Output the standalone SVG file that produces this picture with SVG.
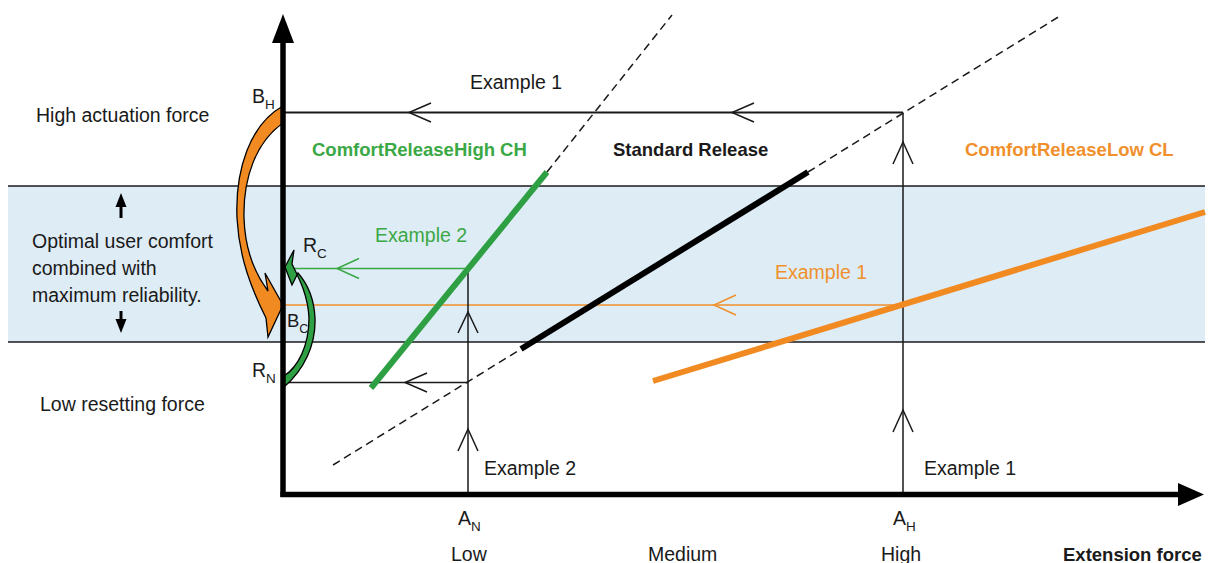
<svg xmlns="http://www.w3.org/2000/svg" width="1219" height="563" viewBox="0 0 1219 563">
<style>
text{font-family:"Liberation Sans",Arial,sans-serif;font-size:19.5px;fill:#1a1a1a}
.b{font-weight:bold;font-size:18.5px}
.g{fill:#3aa845}
.o{fill:#f0902c}
.sub{font-size:13.5px}
.thin{stroke:#1a1a1a;stroke-width:1.5;fill:none}
.chev{stroke:#1a1a1a;stroke-width:1.5;fill:none;stroke-linejoin:miter}
.dash{stroke:#1a1a1a;stroke-width:1.5;fill:none;stroke-dasharray:8 5}
</style>
<rect width="1219" height="563" fill="#fff"/>
<g id="band">
<rect x="8" y="186" width="1197" height="156" fill="#deecf6"/>
<line x1="8" y1="186" x2="1205" y2="186" stroke="#1a1a1a" stroke-width="1.3"/>
<line x1="8" y1="342" x2="1205" y2="342" stroke="#1a1a1a" stroke-width="1.3"/>
</g>
<g id="connectors">
<line x1="283" y1="112.5" x2="903" y2="112.5" stroke="#1a1a1a" stroke-width="2"/>
<line class="thin" x1="283" y1="382.5" x2="468" y2="382.5"/>
<line x1="287" y1="268.5" x2="468" y2="268.5" stroke="#3aa845" stroke-width="1.5"/>
<line x1="283" y1="305" x2="903" y2="305" stroke="#f0902c" stroke-width="1.5"/>
<line class="thin" x1="468" y1="268.5" x2="468" y2="494"/>
<line class="thin" x1="903" y1="112.5" x2="903" y2="494"/>
<polyline class="chev" points="431,103 409,112.5 431,122"/>
<polyline class="chev" points="754,103 732,112.5 754,122"/>
<polyline class="chev" points="893,164 903,142 913,164"/>
<polyline class="chev" points="893,432 903,410 913,432"/>
<polyline class="chev" points="458,333 468,312 478,333"/>
<polyline class="chev" points="458,451 468,429 478,451"/>
<polyline class="chev" points="427,373 405,382.5 427,392"/>
<polyline points="359,258.5 337,268.5 359,278.5" stroke="#3aa845" stroke-width="1.5" fill="none"/>
<polyline points="736,295 714,305 736,315" stroke="#f0902c" stroke-width="1.5" fill="none"/>
<line class="dash" x1="547" y1="172" x2="672" y2="15"/>
<line class="dash" x1="333" y1="465" x2="521" y2="349"/>
<line class="dash" x1="808" y1="172" x2="1060" y2="16"/>
<line x1="371" y1="388" x2="547" y2="172" stroke="#2ea043" stroke-width="6"/>
<line x1="521" y1="349" x2="808" y2="172" stroke="#000" stroke-width="6"/>
<line x1="653" y1="381" x2="1205" y2="212" stroke="#f28a22" stroke-width="6"/>
<path d="M283,106 C250,124 235,170 237,218 C239,258 252,290 266,318 L268,337 L283,305 L265,273 L268,291 C256,275 245,250 244,218 C243,178 256,142 283,123 Z" fill="#f28a22" stroke="#000" stroke-width="1.3" stroke-linejoin="miter"/>
<path d="M284,387 C304,370 316,345 315,318 C314,296 305,281 298,273 L292,285 L285,267 L294,250 L292,264 C300,280 308,296 309,318 C309,346 298,367 284,376 Z" fill="#2ea043" stroke="#000" stroke-width="1.3"/>
</g>
<g id="axes">
<line x1="283" y1="40" x2="283" y2="497" stroke="#000" stroke-width="5.5"/>
<polygon points="283,14 272,43 294,43" fill="#000"/>
<line x1="280.5" y1="494.5" x2="1180" y2="494.5" stroke="#000" stroke-width="5.5"/>
<polygon points="1204,494.5 1178,483 1178,506" fill="#000"/>
</g>
<g id="comfort-arrows">
<line x1="121" y1="200" x2="121" y2="218" stroke="#000" stroke-width="3"/>
<polygon points="121,193 115.5,207 126.5,207" fill="#000"/>
<line x1="121" y1="311" x2="121" y2="325" stroke="#000" stroke-width="3"/>
<polygon points="121,333 115.5,319 126.5,319" fill="#000"/>
</g>
<g id="labels">
<text x="470" y="89">Example 1</text>
<text x="36" y="122">High actuation force</text>
<text x="252" y="103">B<tspan class="sub" dy="6">H</tspan></text>
<text class="b g" x="312" y="156">ComfortReleaseHigh CH</text>
<text class="b" x="613" y="156">Standard Release</text>
<text class="b o" x="965" y="156">ComfortReleaseLow CL</text>
<text class="g" x="375" y="242">Example 2</text>
<text x="303" y="252">R<tspan class="sub" dy="6">C</tspan></text>
<text x="32" y="248">Optimal user comfort</text>
<text x="32" y="275">combined with</text>
<text x="32" y="302">maximum reliability.</text>
<text class="o" x="775" y="279">Example 1</text>
<text x="287" y="327" style="font-size:18.5px">B<tspan style="font-size:12.5px" dy="6">C</tspan></text>
<text x="252" y="377">R<tspan class="sub" dy="6">N</tspan></text>
<text x="40" y="411">Low resetting force</text>
<text x="484" y="475">Example 2</text>
<text x="924" y="475">Example 1</text>
<text x="458" y="525">A<tspan class="sub" dy="6">N</tspan></text>
<text x="893" y="525">A<tspan class="sub" dy="6">H</tspan></text>
<text x="451" y="561">Low</text>
<text x="648" y="561">Medium</text>
<text x="881" y="561">High</text>
<text class="b" x="1063" y="561">Extension force</text>
</g>
</svg>
